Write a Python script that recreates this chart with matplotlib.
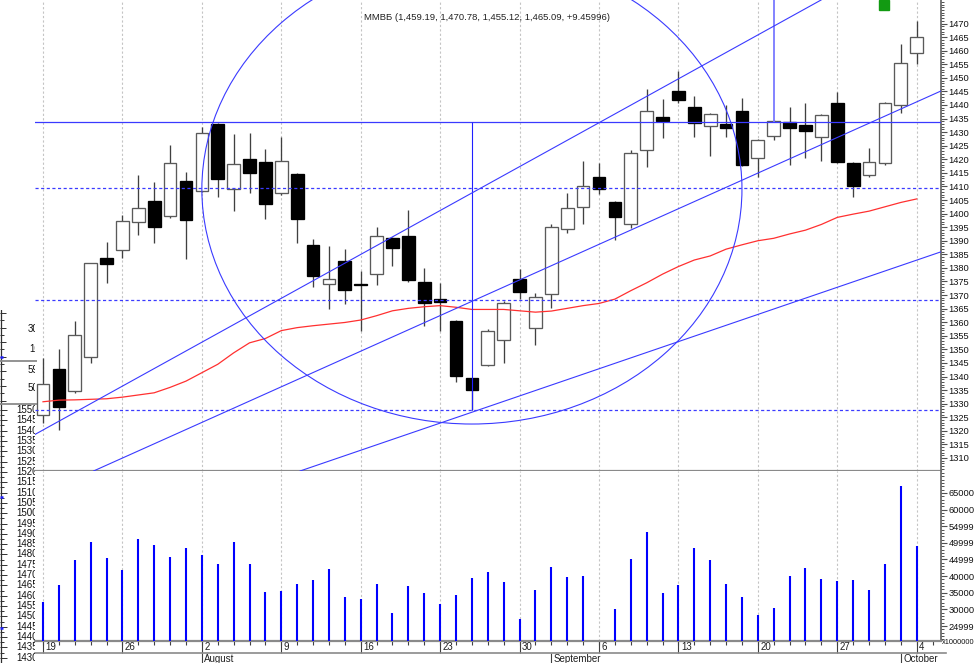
import numpy as np
import matplotlib
matplotlib.use('Agg')
import matplotlib.pyplot as plt
from matplotlib.patches import Ellipse, Rectangle
from matplotlib.ticker import MultipleLocator, FixedLocator, FixedFormatter
from matplotlib.transforms import offset_copy

plt.rcParams['font.family'] = ['Liberation Sans', 'DejaVu Sans']

# ── MMVB daily, 19 Jul - 4 Oct 2010 ─────────────────────────────────────
opens = [1325.8, 1342.6, 1334.8, 1347.3, 1383.7, 1386.7, 1397.0, 1404.6, 1399.1, 1412.1,
         1408.3, 1433.0, 1408.9, 1420.0, 1419.1, 1407.5, 1414.7, 1388.4, 1373.9, 1382.5,
         1374.0, 1377.6, 1390.9, 1391.7, 1374.7, 1368.4, 1360.5, 1339.3, 1344.2, 1353.4,
         1375.9, 1357.7, 1370.4, 1394.2, 1402.5, 1413.6, 1404.3, 1396.2, 1423.3, 1435.6,
         1445.2, 1439.1, 1432.2, 1432.9, 1437.9, 1420.4, 1428.6, 1433.8, 1432.6, 1428.3,
         1440.8, 1418.7, 1414.2, 1418.5, 1440.0, 1459.19]
highs = [1346.8, 1350.0, 1360.4, 1381.9, 1389.4, 1399.5, 1414.3, 1411.7, 1425.2, 1415.4,
         1431.8, 1433.5, 1429.3, 1429.6, 1423.7, 1428.1, 1414.9, 1390.5, 1388.0, 1386.9,
         1379.0, 1394.9, 1391.2, 1401.3, 1379.8, 1374.3, 1360.7, 1339.5, 1357.4, 1367.8,
         1379.6, 1370.8, 1396.2, 1407.7, 1419.4, 1418.5, 1404.5, 1423.4, 1445.8, 1442.1,
         1452.5, 1443.4, 1437.0, 1440.0, 1442.4, 1427.3, 1434.3, 1439.4, 1440.6, 1436.6,
         1444.9, 1418.9, 1424.0, 1441.2, 1462.4, 1470.78]
lows = [1322.9, 1320.3, 1333.9, 1344.8, 1374.5, 1383.5, 1392.1, 1389.0, 1398.3, 1383.1,
        1408.0, 1406.2, 1400.9, 1407.5, 1397.9, 1407.0, 1389.0, 1372.8, 1364.7, 1366.7,
        1356.9, 1373.7, 1380.8, 1374.9, 1358.6, 1356.9, 1338.1, 1327.6, 1343.8, 1344.8,
        1368.5, 1351.6, 1365.1, 1392.7, 1396.0, 1407.2, 1390.3, 1394.6, 1417.0, 1427.9,
        1440.8, 1428.3, 1421.2, 1428.3, 1417.5, 1413.6, 1427.1, 1417.9, 1420.4, 1419.5,
        1418.5, 1406.0, 1413.6, 1418.0, 1437.1, 1455.12]
closes = [1337.1, 1328.9, 1355.3, 1381.7, 1381.3, 1397.3, 1401.9, 1395.2, 1418.7, 1397.6,
          1429.6, 1412.6, 1418.3, 1415.0, 1403.6, 1419.4, 1398.1, 1377.1, 1375.8, 1371.8,
          1373.6, 1391.7, 1387.2, 1375.5, 1366.9, 1367.4, 1340.2, 1335.0, 1356.7, 1366.9,
          1371.2, 1369.2, 1394.9, 1401.9, 1410.3, 1408.9, 1398.8, 1422.4, 1437.8, 1434.0,
          1441.8, 1433.5, 1436.7, 1431.4, 1417.9, 1427.1, 1434.1, 1431.6, 1430.5, 1436.3,
          1418.9, 1410.3, 1419.1, 1440.6, 1455.6, 1465.09]
# moving average (red)
ma = [1330.7, 1331.3, 1331.4, 1331.6, 1331.8, 1332.4, 1333.2, 1334.0, 1336.0, 1338.3,
      1341.4, 1344.5, 1348.7, 1352.4, 1354.0, 1356.9, 1358.0, 1358.7, 1359.3, 1359.9,
      1360.8, 1362.4, 1364.2, 1365.1, 1365.7, 1366.1, 1365.5, 1364.7, 1364.7, 1364.7,
      1364.2, 1363.7, 1364.1, 1365.1, 1366.1, 1366.9, 1368.5, 1371.6, 1374.5, 1377.7,
      1380.5, 1382.9, 1384.4, 1386.9, 1388.5, 1390.0, 1390.9, 1392.5, 1393.9, 1396.0,
      1398.6, 1399.8, 1400.9, 1402.5, 1404.1, 1405.4]
# volume, x1000000 (no bar on 6 Sep)
volume = [32300, 37200, 44800, 50200, 45500, 41900, 51100, 49500, 45700, 48500,
          46400, 43600, 50200, 43700, 35100, 35400, 37600, 38700, 42100, 33700,
          33000, 37500, 28800, 37000, 34900, 31600, 34300, 39400, 41200, 38200,
          27000, 35800, 42800, 39800, 40100, np.nan, 30100, 45200, 53400, 34900,
          37400, 48500, 44900, 37600, 33700, 28400, 30300, 40100, 42400, 39200,
          38400, 38900, 35800, 43600, 67100, 49000]

week_pos = [0, 5, 10, 15, 20, 25, 30, 35, 40, 45, 50, 55]
week_labels = ['19', '26', '2', '9', '16', '23', '30', '6', '13', '20', '27', '4']
month_pos = [10, 32, 54]
month_labels = ['August', 'September', 'October']

price_ticks = list(range(1310, 1471, 5))
vol_ticks = [25000, 30000, 35000, 40000, 45000, 50000, 55000, 60000, 65000]
vol_tick_labels = ['24999', '30000', '35000', '40000', '44999', '49999', '54999', '60000', '65000']

# drawing tools on the chart
fib_top = 1433.8
fib_levels = [1409.6, 1368.2, 1327.6]
fib_x = 27
mark_x = 46
trend_lines = [((0.0, 1320.3), (37.58, 1441.8)),
               ((16.18, 1339.3), (56.47, 1445.0)),
               ((23.73, 1320.3), (56.47, 1385.8))]
circle_center = (27, 1409.0)
circle_w, circle_h = 34.0, 173.0

title = 'ММВБ (1,459.19, 1,470.78, 1,455.12, 1,465.09, +9.45996)'

# remnants of another window's axis at the left edge
ghost_top = ['30', '10', '59', '50']
ghost_vals = [str(v) for v in range(1550, 1429, -5)]

BLUE = '#3a3aff'
W, H = 975, 663
fig = plt.figure(figsize=(W / 100, H / 100), dpi=100)


def box(x0, y0, x1, y1):
    return [x0 / W, 1 - y1 / H, (x1 - x0) / W, (y1 - y0) / H]


ax = fig.add_axes(box(35, 0, 941, 471))
axv = fig.add_axes(box(35, 471, 941, 641), sharex=ax)

x = np.arange(len(closes))
o, h, l, c = map(np.array, (opens, highs, lows, closes))
up = c >= o

# ── price panel ─────────────────────────────────────────────────────────
for p in week_pos:
    ax.axvline(p, color='#c4c4c4', lw=0.8, ls=(0, (2, 2)), zorder=1)
    axv.axvline(p, color='#c4c4c4', lw=0.8, ls=(0, (2, 2)), zorder=1)

ax.vlines(x, l, h, color='#404040', lw=0.95, zorder=3)
ax.bar(x[up], (c - o)[up], bottom=o[up], width=0.8, color='white',
       edgecolor='#5a5a5a', lw=0.95, zorder=4)
ax.bar(x[~up], (o - c)[~up], bottom=c[~up], width=0.8, color='black',
       edgecolor='black', lw=0.95, zorder=4)

ax.plot(x, ma, color='#ff3030', lw=0.9, zorder=5)

ax.axhline(fib_top, color=BLUE, lw=0.9, zorder=6)
for lv in fib_levels:
    ax.axhline(lv, color=BLUE, lw=0.9, ls=(0, (2.5, 2)), zorder=6)
ax.vlines(fib_x, fib_levels[-1], fib_top, color='#2020ff', lw=0.8, zorder=6)
ax.set_ylim(1305.2, 1478.66)
ax.vlines(mark_x, fib_top, 1478.66, color='#7a7aff', lw=1.3, zorder=6)

for p1, p2 in trend_lines:
    ax.axline(p1, p2, color=BLUE, lw=0.8, zorder=6)
ax.add_patch(Ellipse(circle_center, circle_w, circle_h, fill=False,
                     ec=BLUE, lw=0.8, zorder=6))

ax.set_xlim(-0.504, 56.53)
ax.set_xticks([])

# ── volume panel ────────────────────────────────────────────────────────
vmin, vmax = 20489, 71616
axv.set_ylim(vmin, vmax)
axv.vlines(x, vmin, volume, color='#0000ff', lw=1.5, zorder=3)

for a in (ax, axv):
    a.set_facecolor('white')
    a.spines['left'].set_visible(False)
    a.spines['top'].set_visible(False)
    a.spines['bottom'].set_color('#8a8a8a')
    a.spines['bottom'].set_linewidth(1.6)
    a.spines['right'].set_color('#606060')
    a.spines['right'].set_linewidth(1.2)
    a.yaxis.tick_right()
    a.tick_params(axis='y', which='major', direction='out', length=4, width=0.8,
                  color='#505050', labelsize=6.7, pad=1.5, labelcolor='#111111')
    a.tick_params(axis='y', which='minor', direction='out', length=2.2, width=0.7,
                  color='#505050')
    a.tick_params(axis='x', which='both', bottom=False, labelbottom=False)

ax.yaxis.set_major_locator(FixedLocator(price_ticks))
ax.yaxis.set_minor_locator(MultipleLocator(1))
axv.yaxis.set_major_locator(FixedLocator(vol_ticks))
axv.yaxis.set_major_formatter(FixedFormatter(vol_tick_labels))
axv.yaxis.set_minor_locator(MultipleLocator(1000))

fig.text(942 / W, 1 - 643 / H, 'x1000000', fontsize=5.3, va='center', ha='left',
         color='#111111')

# ── date strip under the volume panel ─────────────────────────────────
tr = axv.get_xaxis_transform()
axv.vlines(np.arange(len(closes) + 1), 0, -4 / 170, transform=tr,
           color='#404040', lw=0.8, clip_on=False)
axv.vlines(week_pos, 0, -12 / 170, transform=tr, color='#404040', lw=0.8,
           clip_on=False)
axv.vlines(month_pos, -12 / 170, -24 / 170, transform=tr, color='#404040',
           lw=0.8, clip_on=False)
axv.plot([0, 1.005], [-12 / 170] * 2, transform=axv.transAxes,
         color='#8a8a8a', lw=1.2, clip_on=False)
trl = offset_copy(tr, fig=fig, x=2.5, y=0, units='dots')
for p, s in zip(week_pos, week_labels):
    axv.text(p, -6.5 / 170, s, transform=trl, ha='left', va='center',
             fontsize=7, color='#202020')
for p, s in zip(month_pos, month_labels):
    axv.text(p, -17.5 / 170, s, transform=trl, ha='left', va='center',
             fontsize=7, color='#202020')

# ── top: title and green marker ────────────────────────────────────────
fig.text(487 / W, 1 - 18 / H, title, ha='center', va='center', fontsize=6.8,
         color='#222222')
fig.add_artist(Rectangle((879 / W, 1 - 9.5 / H), 10 / W, 9.5 / H,
                         transform=fig.transFigure, color='#129a12'))

# ── ghost axis on the left edge ──────────────────────────────────────
axg = fig.add_axes(box(0, 310, 35, 663))
axg.set_xlim(0, 35)
axg.set_ylim(663, 310)
axg.axis('off')
axg.plot([0.6, 0.6], [310, 663], color='#303030', lw=0.9)
top_y = np.arange(313, 404, 7.3)
axg.hlines(top_y, 0, np.where(np.arange(len(top_y)) % 2 == 0, 6, 3.5),
           color='#303030', lw=0.7)
lab_y = 410 + 10.32 * np.arange(len(ghost_vals))
axg.hlines(lab_y, 0, 6.5, color='#303030', lw=0.7)
axg.hlines(lab_y[:-1] + 5.16, 0, 3.5, color='#303030', lw=0.7)
axg.hlines([361, 404], 0, 37, color='#8a8a8a', lw=1.3, clip_on=False)
axg.hlines([357, 497, 628], 0, 3, color='#2020ff', lw=1.8)
for s, yy, xx in zip(ghost_top, [329, 349, 370, 388], [28, 29, 28, 28]):
    axg.text(xx, yy, s, fontsize=7, va='center', ha='left', clip_on=True,
             color='#111111')
for s, yy in zip(ghost_vals, lab_y):
    axg.text(16, yy, s, fontsize=7, va='center', ha='left', clip_on=True,
             color='#111111')

fig.savefig('out.png', dpi=100)
